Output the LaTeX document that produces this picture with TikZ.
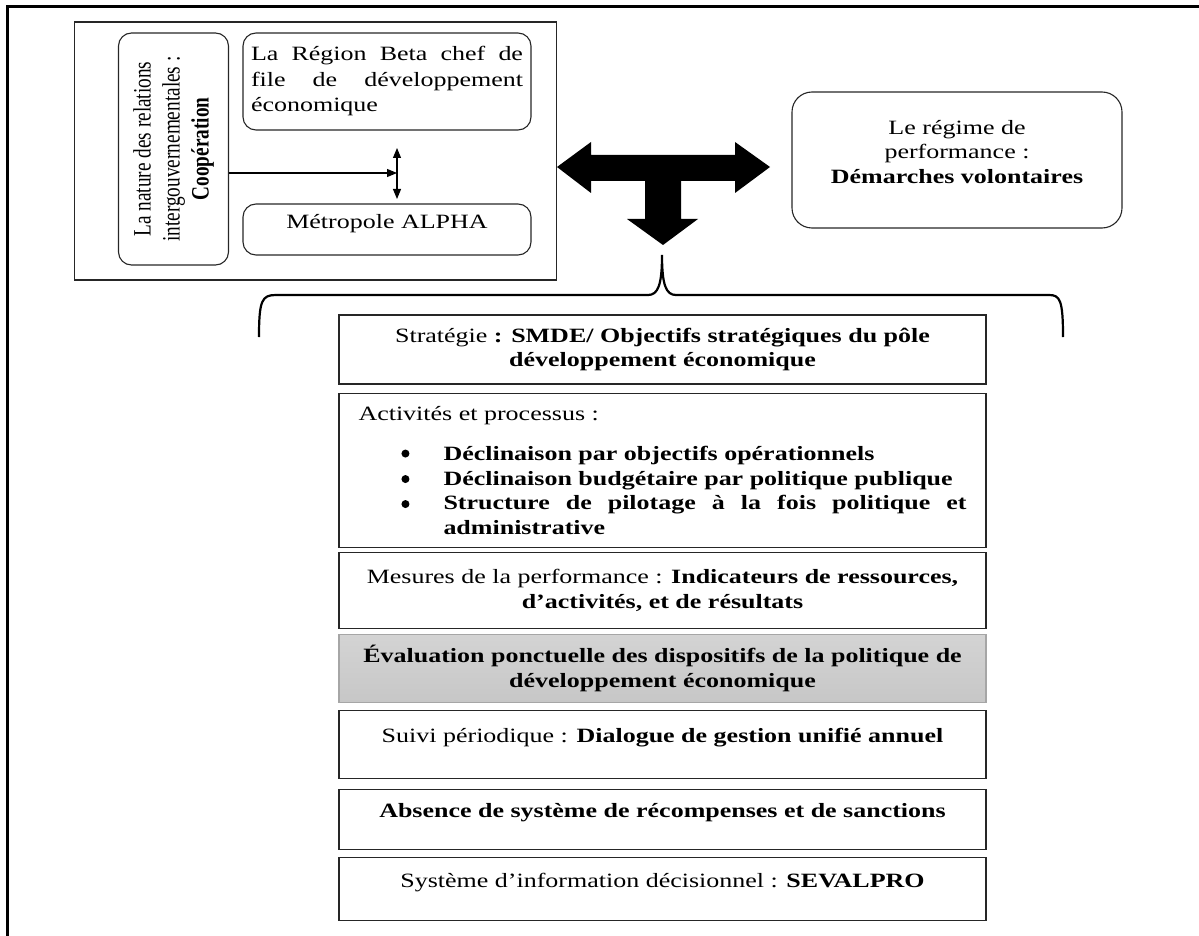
\documentclass[tikz,border=0pt]{standalone}
\usepackage{fontspec}
\setmainfont{Liberation Serif}[FakeStretch=1.28]
\newfontfamily\tallserif{Liberation Serif}[FakeStretch=0.77]
\usetikzlibrary{positioning,arrows.meta}

\newcommand{\itm}[1]{\par\noindent\hspace*{85pt}\parbox[t]{523pt}{\textbf{#1}}}

\begin{document}
\begin{tikzpicture}[x=1pt, y=-1pt, >={Triangle[length=10pt,width=8pt]},
    box/.style={draw=black!85, line width=1.1pt, inner sep=6pt, align=center,
      font=\fontsize{20.3}{24.5}\selectfont},
    rbox/.style={box, rounded corners=#1},
    stackbox/.style={box, minimum width=647pt},
    lift/.style={text depth=#1}]

\useasboundingbox (0,0) rectangle (1199,936);
% cadre
\draw[line width=3pt] (1199,7) -- (7,7) -- (7,936);

% bloc des acteurs
\node[draw=black!85, line width=1.2pt, minimum width=482pt, minimum height=258pt] (panel) at (315.7,151) {};
\node[rbox=13pt, rotate=90, minimum width=232pt, minimum height=110pt,
      font=\tallserif\fontsize{25}{29}\selectfont] (nature) at (173.5,149)
      {La nature des relations\\intergouvernementales :\\\textbf{Coopération}};
\node[rbox=13pt, minimum width=288pt, minimum height=97pt, text width=272pt, align=justify,
      font=\fontsize{20.3}{25.5}\selectfont] (region) at (387,81.5)
      {La Région Beta chef de\linebreak file de développement\linebreak économique};
\node[rbox=13pt, minimum width=288pt, minimum height=51pt, lift=15.5pt] (metro) at (387,229.5) {Métropole ALPHA};

\coordinate (meet) at (397,173);
\coordinate (ptop) at (397,148);
\coordinate (pbot) at (397,199);
\draw[->, line width=1.1pt] (nature.south |- meet) -- (meet);
\draw[<->, line width=1.1pt] (ptop) -- (pbot);

% grande fleche en T
\fill (557,167) -- (591,142) -- (591,155) -- (735,155) -- (735,142) -- (770,167)
  -- (735,193) -- (735,181) -- (681,181) -- (681,219) -- (698,219) -- (663,245)
  -- (627,219) -- (645,219) -- (645,181) -- (591,181) -- (591,193) -- cycle;

% regime de performance
\node[rbox=20pt, minimum width=330pt, minimum height=136pt, lift=17pt] (regime) at (957,160)
  {Le régime de\\performance :\\\textbf{Démarches volontaires}};

% accolade
\draw[line width=2.2pt] (259,337) .. controls (259,300) and (262,295) .. (276,295) -- (648,295)
  .. controls (658,295) and (662,285) .. (662,255)
  .. controls (662,285) and (666,295) .. (676,295) -- (1049,295)
  .. controls (1060,295) and (1063,300) .. (1063,337);

% pile des composantes
\node[stackbox, minimum height=69pt] (strat) at (662.5,349.5)
  {Stratégie \textbf{: SMDE/ Objectifs stratégiques du pôle}\\\textbf{développement économique}};
\node[stackbox, minimum height=154pt, text width=608pt, align=justify, below=8pt of strat] (activ)
  {Activités et processus :\par\vspace{16pt}%
   \itm{Déclinaison par objectifs opérationnels}%
   \itm{Déclinaison budgétaire par politique publique}%
   \itm{Structure de pilotage à la fois politique et\linebreak administrative}};
% puces
\foreach \dy in {61,86.5,111.5}
  \fill ([xshift=67pt]activ.north west) ++(0,\dy) circle (4pt);
\node[stackbox, minimum height=76pt, below=4pt of activ] (mesures)
  {Mesures de la performance : \textbf{Indicateurs de ressources,}\\\textbf{d’activités, et de résultats}};
\node[stackbox, minimum height=68pt, below=5pt of mesures, draw=gray!70,
      top color=gray!34, bottom color=gray!44] (evalu)
  {\textbf{Évaluation ponctuelle des dispositifs de la politique de}\\\textbf{développement économique}};
\node[stackbox, minimum height=68pt, lift=18.5pt, below=7pt of evalu] (suivi)
  {Suivi périodique : \textbf{Dialogue de gestion unifié annuel}};
\node[stackbox, minimum height=60pt, lift=18.5pt, below=10pt of suivi] (absence)
  {\textbf{Absence de système de récompenses et de sanctions}};
\node[stackbox, minimum height=63pt, lift=18.5pt, below=7pt of absence] (sevalpro)
  {Système d’information décisionnel : \textbf{SEVALPRO}};
\end{tikzpicture}
\end{document}
